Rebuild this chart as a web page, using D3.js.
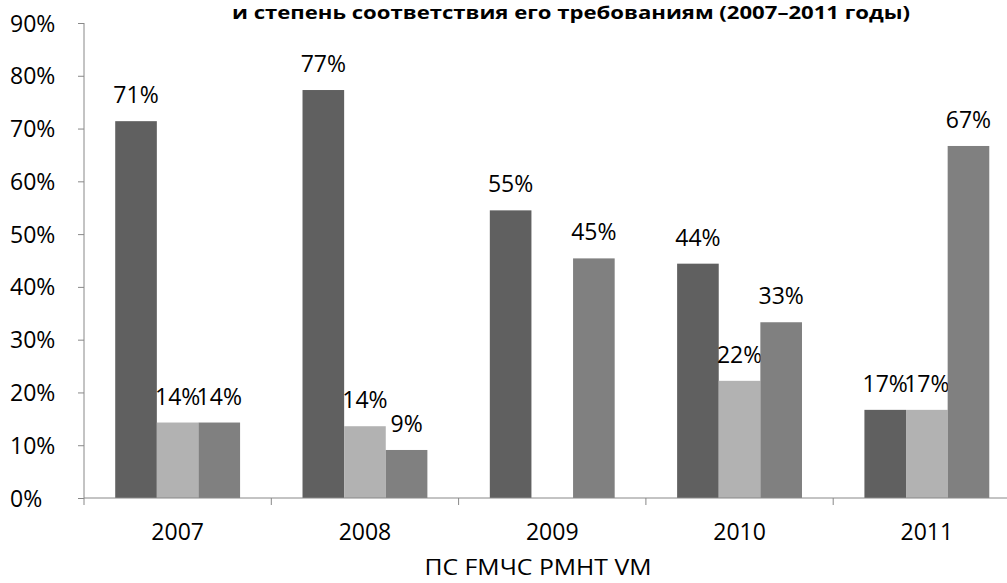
<!DOCTYPE html>
<html>
<head>
<meta charset="utf-8">
<script src="https://cdn.jsdelivr.net/npm/d3@7"></script>
<style>
body{margin:0;background:#fff;}
text{font-family:"Open Sans","Noto Sans",sans-serif;fill:#000;}
</style>
</head>
<body>
<div id="chart"></div>
<script>
// данные
var years=["2007","2008","2009","2010","2011"];
var seriesNames=["ПС","FMЧС","PMHT","VM"];
var s1=[71.4,77.3,54.5,44.4,16.7];
var s2=[14.3,13.6,0,22.2,16.7];
var s3=[14.3,9.1,45.4,33.3,66.7];
var yTicks=[0,10,20,30,40,50,60,70,80,90];
var title="и степень соответствия его требованиям (2007–2011 годы)";

var colors=["#606060","#b2b2b2","#808080"];
var W=1007,H=583;
var svg=d3.select("#chart").append("svg").attr("width",W).attr("height",H);

var x0=84;
var x=d3.scaleBand().domain(years).range([x0,x0+187.3*5]);
var y=d3.scaleLinear().domain([0,90]).range([498,23]);
var xs=d3.scaleBand().domain([0,1,2]).range([0,x.bandwidth()]).paddingOuter(0.75).paddingInner(0);

// заголовок
svg.append("text").attr("x",571).attr("y",19).attr("text-anchor","middle")
  .style("font-weight","bold").style("font-size","18px")
  .attr("textLength",678).attr("lengthAdjust","spacingAndGlyphs").text(title);

// ось Y
var yAxis=svg.append("g").attr("transform","translate("+x0+",0)")
  .call(d3.axisLeft(y).tickValues(yTicks).tickSize(6).tickPadding(27).tickFormat(function(d){return d+"%";}));
yAxis.select(".domain").remove();
yAxis.append("line").attr("y1",y(0)).attr("y2",y(90)).attr("stroke","#888");
yAxis.selectAll("line").attr("stroke","#888");
yAxis.selectAll("text").style("font-size","23px").attr("dy","0.35em")
  .attr("text-anchor","start").attr("x",-74);

// столбцы
var data=[s1,s2,s3];
data.forEach(function(arr,si){
  var pts=arr.map(function(v,i){return {year:years[i],v:v};});
  var g=svg.append("g");
  g.selectAll("rect").data(pts).enter().append("rect")
    .attr("x",function(d){return x(d.year)+xs(si);})
    .attr("y",function(d){return y(d.v);})
    .attr("width",xs.bandwidth())
    .attr("height",function(d){return y(0)-y(d.v);})
    .attr("fill",colors[si]);
  g.selectAll("text").data(pts.filter(function(d){return d.v>0;})).enter().append("text")
    .attr("x",function(d){return x(d.year)+xs(si)+xs.bandwidth()/2;})
    .attr("y",function(d){return y(d.v)-18;})
    .attr("text-anchor","middle").style("font-size","23px")
    .text(function(d){return Math.round(d.v)+"%";});
});

// ось X
svg.append("line").attr("x1",x0).attr("x2",W).attr("y1",y(0)).attr("y2",y(0)).attr("stroke","#888");
var xt=years.map(function(d){return x(d);}).concat([x.range()[1]]);
svg.selectAll(".xt").data(xt).enter().append("line")
  .attr("x1",function(d){return d;}).attr("x2",function(d){return d;})
  .attr("y1",y(0)).attr("y2",y(0)+7).attr("stroke","#888");
svg.selectAll(".xl").data(years).enter().append("text")
  .attr("x",function(d){return x(d)+x.bandwidth()/2;}).attr("y",540)
  .attr("text-anchor","middle").style("font-size","23px").text(function(d){return d;});

// легенда
svg.append("text").attr("x",538).attr("y",575).attr("text-anchor","middle")
  .style("font-size","22px").attr("textLength",227).attr("lengthAdjust","spacingAndGlyphs")
  .text(seriesNames.join(" "));
</script>
</body>
</html>
